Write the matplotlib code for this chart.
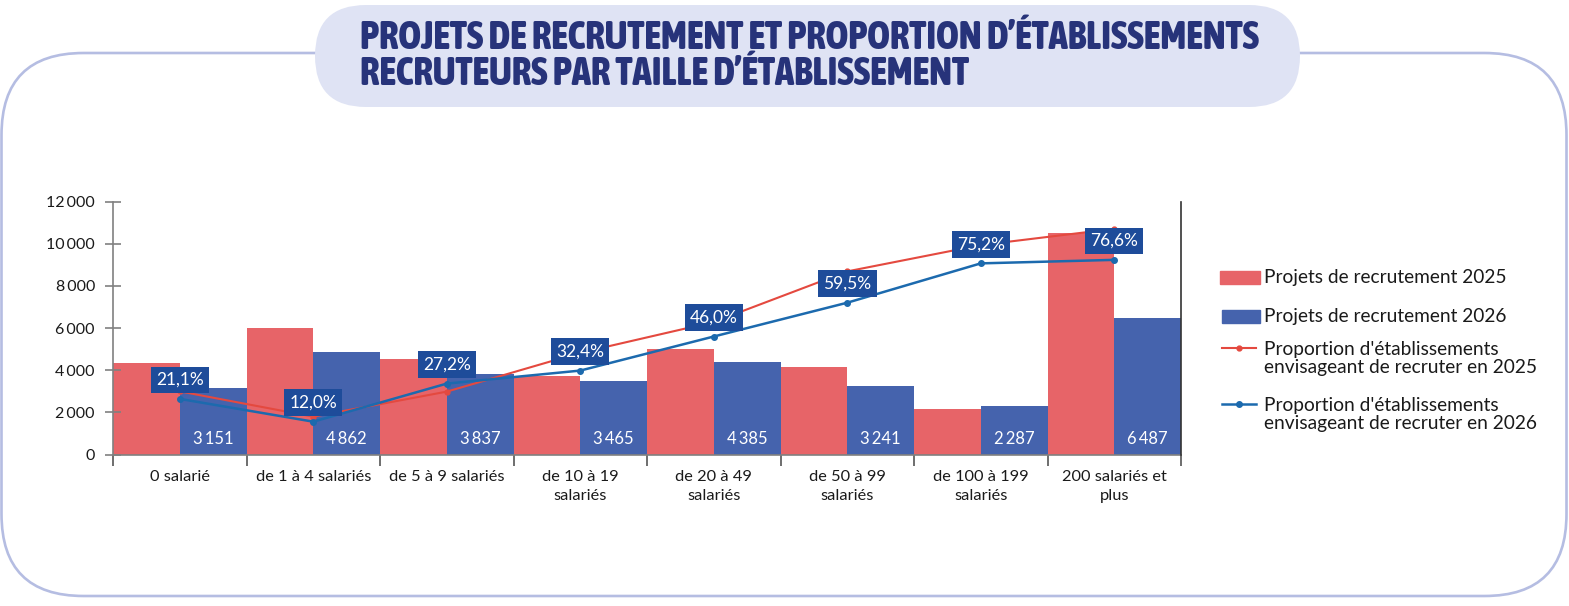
import matplotlib
matplotlib.use('Agg')
import matplotlib.pyplot as plt
import numpy as np
from matplotlib.patches import FancyBboxPatch, Rectangle
from matplotlib import font_manager
from matplotlib.font_manager import FontProperties

# Données du graphique
categories = ["0 salarié", "de 1 à 4 salariés", "de 5 à 9 salariés",
              "de 10 à 19\nsalariés", "de 20 à 49\nsalariés", "de 50 à 99\nsalariés",
              "de 100 à 199\nsalariés", "200 salariés et\nplus"]
projets_2025 = [4330, 6000, 4530, 3720, 5000, 4170, 2150, 10490]
projets_2026 = [3151, 4862, 3837, 3465, 4385, 3241, 2287, 6487]
part_2025 = [24.1, 14.0, 24.0, 39.5, 51.8, 72.0, 82.5, 89.0]
part_2026 = [21.1, 12.0, 27.2, 32.4, 46.0, 59.5, 75.2, 76.6]
yticks = [0, 2000, 4000, 6000, 8000, 10000, 12000]

legend_labels = ["Projets de recrutement 2025",
                 "Projets de recrutement 2026",
                 "Proportion d'établissements\nenvisageant de recruter en 2025",
                 "Proportion d'établissements\nenvisageant de recruter en 2026"]
title_lines = ["PROJETS DE RECRUTEMENT ET PROPORTION D’ÉTABLISSEMENTS",
               "RECRUTEURS PAR TAILLE D’ÉTABLISSEMENT"]

# Couleurs
c_bar25 = '#e76468'
c_bar26 = '#4563ad'
c_line25 = '#e4493f'
c_line26 = '#1c6aae'
c_box = '#1e4c9a'
c_title = '#27337a'
c_frame = '#b5bde2'
c_pill = '#dfe3f4'

plt.rcParams['font.family'] = ['Lato', 'DejaVu Sans']


def weight_num(w):
    if isinstance(w, str):
        return font_manager.weight_dict.get(w, 400)
    return w


# police étroite et grasse pour le titre, si disponible
stretch_rank = {'semi-condensed': 0, 'condensed': 1, 'extra-condensed': 2, 'ultra-condensed': 3}
cond = [f for f in font_manager.fontManager.ttflist
        if (f.stretch in stretch_rank or 'Condensed' in f.name or 'Narrow' in f.name)
        and weight_num(f.weight) >= 700 and f.style == 'normal']
if cond:
    cond.sort(key=lambda f: (stretch_rank.get(f.stretch, 1), abs(weight_num(f.weight) - 800)))
    title_fp = FontProperties(fname=cond[0].fname)
else:
    title_fp = FontProperties(family='DejaVu Sans', weight='bold')


def fmt_nombre(v):
    return f"{v:,}".replace(',', '\u2009')


def fmt_pct(v):
    return f"{v:.1f}%".replace('.', ',')


W, H = 1569, 606
fig = plt.figure(figsize=(W / 100, H / 100), dpi=100)

# fond : cadre arrondi + cartouche du titre (coordonnées en pixels)
bg = fig.add_axes([0, 0, 1, 1], zorder=-1)
bg.set_xlim(0, W)
bg.set_ylim(H, 0)
bg.axis('off')
bg.add_patch(FancyBboxPatch((1.5, 53), 1565, 543, boxstyle="round,pad=0,rounding_size=82",
                            fill=False, ec=c_frame, lw=1.9))
bg.add_patch(FancyBboxPatch((315, 5), 985, 102, boxstyle="round,pad=0,rounding_size=51",
                            fc=c_pill, ec='none'))
t1 = bg.text(360, 49, title_lines[0], fontproperties=title_fp, fontsize=24,
             color=c_title, va='baseline', ha='left')
t2 = bg.text(360, 85, title_lines[1], fontproperties=title_fp, fontsize=24,
             color=c_title, va='baseline', ha='left')
# ajuster la taille pour que la première ligne fasse ~900 px de large
fig.canvas.draw()
w1 = t1.get_window_extent(fig.canvas.get_renderer()).width
size = min(24 * 900 / w1, 33)
t1.set_fontsize(size)
t2.set_fontsize(size)

# axe principal
ax = fig.add_axes([113 / W, 1 - 454.5 / H, (1181 - 113) / W, 253 / H])
x = np.arange(len(categories))
ax.bar(x - 0.25, projets_2025, width=0.5, color=c_bar25)
ax.bar(x + 0.25, projets_2026, width=0.5, color=c_bar26)
ax.set_xlim(-0.5, len(categories) - 0.5)
ax.set_ylim(0, 12000)

for i, v in enumerate(projets_2026):
    ax.annotate(fmt_nombre(v), (i + 0.25, 0), xytext=(0, 16), textcoords='offset pixels',
                ha='center', va='center', color='white', fontsize=12)

ax.set_yticks(yticks)
ax.set_yticklabels([fmt_nombre(v) for v in yticks])
ax.tick_params(axis='y', direction='inout', length=12, width=1.2, color='#808080',
               labelsize=11.5, labelcolor='#1a1a1a', pad=7)
ax.set_xticks(x)
ax.set_xticklabels(categories, linespacing=1.45)
ax.tick_params(axis='x', length=0, labelsize=11.8, labelcolor='#1a1a1a', pad=11)
ax.set_xticks(np.arange(-0.5, len(categories), 1), minor=True)
ax.tick_params(axis='x', which='minor', length=8, width=1.2, color='#555555', direction='out')
for s in ['top', 'right']:
    ax.spines[s].set_visible(False)
for s in ['left', 'bottom']:
    ax.spines[s].set_color('#808080')
    ax.spines[s].set_linewidth(1.2)

# axe secondaire pour les proportions
ax2 = ax.twinx()
ax2.set_ylim(-1.1, 99.9)
ax2.set_yticks([])
for s in ['top', 'left', 'bottom']:
    ax2.spines[s].set_visible(False)
ax2.spines['right'].set_color('#333333')
ax2.spines['right'].set_linewidth(1.2)
ax2.plot(x, part_2025, color=c_line25, lw=1.5, marker='o', ms=3.5)
ax2.plot(x, part_2026, color=c_line26, lw=1.8, marker='o', ms=4)
for i, v in enumerate(part_2026):
    ax2.annotate(fmt_pct(v), (i, v), xytext=(0, 19), textcoords='offset pixels',
                 ha='center', va='center', color='white', fontsize=12.5, zorder=6,
                 bbox=dict(boxstyle='square,pad=0.3', fc=c_box, ec='none'))

# légende
bg.add_patch(Rectangle((1220, 271), 40, 13, color=c_bar25))
bg.add_patch(Rectangle((1222, 310), 38, 13, color=c_bar26))
bg.plot([1222, 1256], [348, 348], color=c_line25, lw=1.5)
bg.plot([1239], [348], 'o', color=c_line25, ms=3.5)
bg.plot([1222, 1256], [404, 404], color=c_line26, lw=1.8)
bg.plot([1239], [404], 'o', color=c_line26, ms=4)
leg_y = [277, 316.5, 358.5, 414.5]
for lab, yy in zip(legend_labels, leg_y):
    bg.text(1264, yy, lab, fontsize=13.8, color='#1a1a1a', va='center', ha='left',
            linespacing=1.12)

fig.savefig('out.png', dpi=100)
